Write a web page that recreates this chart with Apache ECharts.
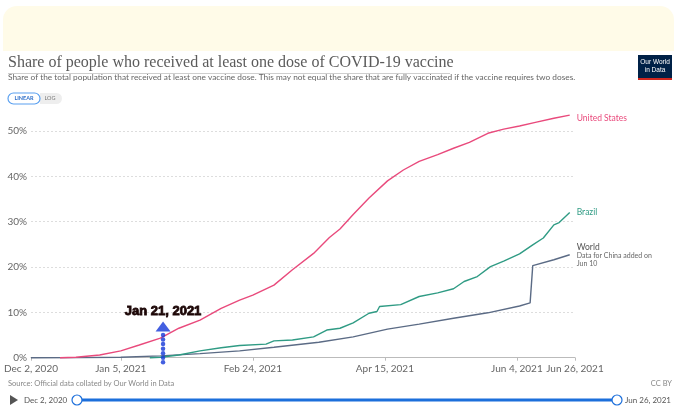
<!DOCTYPE html>
<html><head><meta charset="utf-8">
<script src="https://cdn.jsdelivr.net/npm/echarts@6/dist/echarts.min.js"></script>
<style>html,body{margin:0;padding:0;background:#fff}#c{width:674px;height:408px}</style>
</head><body><div id="c"></div>
<script>
// ---- data ----
const usDates = ['2020-12-13','2020-12-19','2020-12-28','2021-01-05','2021-01-12','2021-01-20','2021-01-27','2021-02-04','2021-02-12','2021-02-19','2021-02-24','2021-03-04','2021-03-11','2021-03-19','2021-03-25','2021-03-29','2021-04-03','2021-04-09','2021-04-16','2021-04-22','2021-04-28','2021-05-05','2021-05-11','2021-05-17','2021-05-24','2021-05-30','2021-06-05','2021-06-11','2021-06-18','2021-06-24'];
const usValues = [0,0.1,0.6,1.5,2.8,4.3,6.5,8.3,10.9,12.7,13.8,16.0,19.4,23.0,26.5,28.4,31.6,35.2,39.0,41.4,43.3,44.8,46.2,47.5,49.5,50.4,51.1,51.9,52.8,53.5];

const brDates = ['2021-01-16','2021-01-20','2021-01-27','2021-02-04','2021-02-12','2021-02-19','2021-03-01','2021-03-04','2021-03-11','2021-03-19','2021-03-24','2021-03-29','2021-04-03','2021-04-09','2021-04-12','2021-04-13','2021-04-21','2021-04-28','2021-05-05','2021-05-11','2021-05-15','2021-05-20','2021-05-25','2021-05-30','2021-06-05','2021-06-10','2021-06-14','2021-06-18','2021-06-20','2021-06-24'];
const brValues = [0,0.1,0.6,1.5,2.2,2.7,3.0,3.7,3.9,4.6,6.1,6.5,7.7,9.8,10.2,11.3,11.7,13.5,14.3,15.2,16.8,17.9,20.1,21.3,22.9,24.9,26.4,29.3,29.8,32.0];

const wDates = ['2020-12-02','2020-12-20','2021-01-05','2021-01-20','2021-02-04','2021-02-19','2021-03-04','2021-03-21','2021-04-03','2021-04-16','2021-04-28','2021-05-11','2021-05-24','2021-06-05','2021-06-09','2021-06-10','2021-06-18','2021-06-24'];
const wValues = [0,0.02,0.1,0.4,0.9,1.5,2.3,3.4,4.6,6.3,7.4,8.7,9.9,11.4,12.1,20.3,21.6,22.7];

const xTickDates = ['2020-12-02','2021-01-05','2021-02-24','2021-04-15','2021-06-04','2021-06-26'];
const yTicks = [0,10,20,30,40,50];

const annotationDate = '2021-01-21';
const annotationText = 'Jan 21, 2021';
const annotationDots = [-1,0,1,2,3,4,5];
const annotationArrowValue = 6.9;

// ---- helpers ----
const months = ['Jan','Feb','Mar','Apr','May','Jun','Jul','Aug','Sep','Oct','Nov','Dec'];
function fmtDate(t){ const d = new Date(t); return months[d.getUTCMonth()] + ' ' + d.getUTCDate() + ', ' + d.getUTCFullYear(); }
function ts(s){ return Date.parse(s + 'T00:00:00Z'); }
function zip(ds, vs){ return ds.map((d,i)=>[ts(d), vs[i]]); }

const US = '#e94a7c', BR = '#2f9b84', WD = '#5b6b85';
const FONT = 'Lato, "Noto Sans", sans-serif';

const chart = echarts.init(document.getElementById('c'), null, {renderer:'canvas'});
chart.setOption({
  animation:false,
  backgroundColor:'#fff',
  grid:{left:31, right:99, top:131, bottom:50.3, containLabel:false},
  xAxis:{
    type:'value', min:ts(xTickDates[0]), max:ts(xTickDates[xTickDates.length-1]),
    axisLine:{show:true, lineStyle:{color:'#bbb', width:1}},
    axisTick:{show:true, length:3, lineStyle:{color:'#bbb'}, customValues:xTickDates.map(ts)},
    axisLabel:{show:true, customValues:xTickDates.map(ts), formatter:v=>fmtDate(v), color:'#666', fontSize:10, fontFamily:FONT, margin:6, hideOverlap:false, showMinLabel:true, showMaxLabel:true},
    splitLine:{show:false}
  },
  yAxis:{
    type:'value', min:yTicks[0], max:yTicks[yTicks.length-1], interval:10,
    axisLine:{show:false}, axisTick:{show:false},
    axisLabel:{formatter:v=>v+'%', color:'#666', fontSize:10, fontFamily:FONT, margin:4},
    splitLine:{show:true, lineStyle:{color:'#ddd', type:[2,2], width:1}}
  },
  series:[
    {name:'World', type:'line', data:zip(wDates,wValues), showSymbol:false, clip:false, z:3,
     lineStyle:{color:WD, width:1.4}, itemStyle:{color:WD},
     endLabel:{show:true, distance:7, formatter:'{a|World}\n{b|Data for China added on}\n{b|Jun 10}', rich:{a:{color:'#555', fontSize:8.5, fontFamily:FONT, lineHeight:9}, b:{color:'#666', fontSize:7, fontFamily:FONT, lineHeight:8}}}},
    {name:'Brazil', type:'line', data:zip(brDates,brValues), showSymbol:false, clip:false, z:4,
     lineStyle:{color:BR, width:1.4}, itemStyle:{color:BR},
     endLabel:{show:true, distance:7, formatter:'Brazil', color:BR, fontSize:8.5, fontFamily:FONT}},
    {name:'United States', type:'line', data:zip(usDates,usValues), showSymbol:false, clip:false, z:5,
     lineStyle:{color:US, width:1.4}, itemStyle:{color:US},
     endLabel:{show:true, distance:7, offset:[0,3], formatter:'United States', color:US, fontSize:8.5, fontFamily:FONT}},
    {name:'dots', type:'scatter', clip:false, z:10, silent:true,
     data:annotationDots.map(v=>[ts(annotationDate), v]), symbol:'circle', symbolSize:4.5,
     itemStyle:{color:'#1437d8'}},
    {name:'arrow', type:'scatter', clip:false, z:10, silent:true,
     data:[[ts(annotationDate), annotationArrowValue]], symbol:'triangle', symbolSize:[15,10],
     itemStyle:{color:'#1437d8'},
     label:{show:true, position:'top', distance:3, formatter:annotationText, color:'#1c0606', fontSize:13, fontWeight:900, fontFamily:'"Liberation Sans", Arial, sans-serif', textBorderColor:'#1c0606', textBorderWidth:0.8, opacity:1}}
  ],
  graphic:[
    {type:'rect', shape:{x:3, y:6, width:671, height:45, r:[14,14,0,0]}, style:{fill:'#fffbe8'}, silent:true},
    {type:'text', x:8, y:55, style:{text:'Share of people who received at least one dose of COVID-19 vaccine', font:'16px "Liberation Serif", "DejaVu Serif", serif', fill:'#5b5b5b'}},
    {type:'rect', shape:{x:8, y:73, width:442, height:1}, style:{fill:'#cfcfcf'}},
    {type:'text', x:8, y:73, style:{text:'Share of the total population that received at least one vaccine dose. This may not equal the share that are fully vaccinated if the vaccine requires two doses.', font:'8.3px Lato, sans-serif', fill:'#666'}},
    {type:'rect', shape:{x:638, y:55, width:34, height:25}, style:{fill:'#002147'}},
    {type:'rect', shape:{x:638, y:78, width:34, height:2}, style:{fill:'#ce261e'}},
    {type:'text', x:655, y:58, style:{text:'Our World\nin Data', font:'6.5px "Liberation Sans", sans-serif', fill:'#fff', align:'center', lineHeight:8}},
    {type:'rect', shape:{x:40, y:93, width:22, height:11, r:[0,6,6,0]}, style:{fill:'#eee'}},
    {type:'rect', shape:{x:8, y:93, width:32, height:11, r:6}, style:{fill:'#fff', stroke:'#5aa0f0', lineWidth:1.2}},
    {type:'text', x:24, y:95.5, style:{text:'LINEAR', font:'bold 5.5px Lato, sans-serif', fill:'#2f6fc9', align:'center'}},
    {type:'text', x:50, y:95.5, style:{text:'LOG', font:'5.5px Lato, sans-serif', fill:'#777', align:'center'}},
    {type:'text', x:8, y:380, style:{text:'Source: Official data collated by Our World in Data', font:'7.5px Lato, sans-serif', fill:'#888'}},
    {type:'text', x:672, y:380, style:{text:'CC BY', font:'7.5px Lato, sans-serif', fill:'#888', align:'right'}},
    {type:'polygon', shape:{points:[[10,395],[10,405],[18,400]]}, style:{fill:'#555'}},
    {type:'text', x:24, y:396, style:{text:'Dec 2, 2020', font:'8px Lato, sans-serif', fill:'#555'}},
    {type:'line', shape:{x1:77, y1:400, x2:617, y2:400}, style:{stroke:'#1c6fdb', lineWidth:3.2}},
    {type:'circle', shape:{cx:77, cy:400, r:5}, style:{fill:'#fff', stroke:'#1c6fdb', lineWidth:1.2}},
    {type:'circle', shape:{cx:617, cy:400, r:5}, style:{fill:'#fff', stroke:'#1c6fdb', lineWidth:1.2}},
    {type:'text', x:625, y:396, style:{text:'Jun 26, 2021', font:'8px Lato, sans-serif', fill:'#555'}}
  ]
});
</script></body></html>
